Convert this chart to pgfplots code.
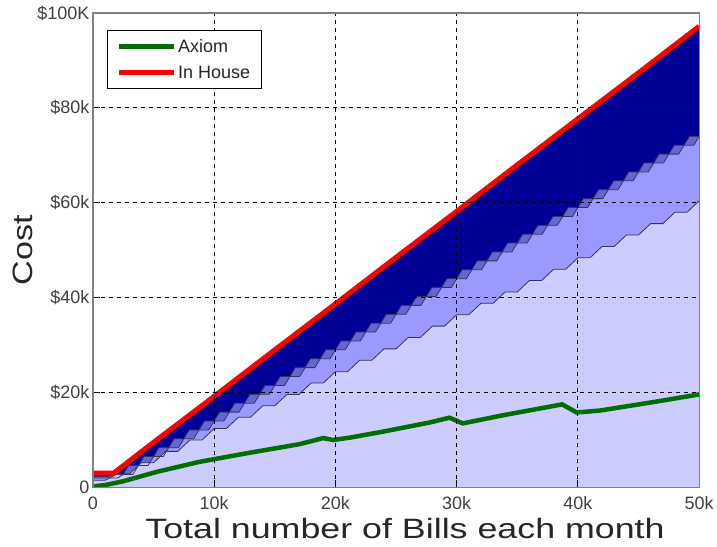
\documentclass[border=0pt]{standalone}
\usepackage{pgfplots}
\pgfplotsset{compat=1.18}
\usepackage{pgfplotstable}
\usepackage{graphicx}
\usepackage{fontspec}
\setmainfont{Liberation Sans}

\definecolor{lightL}{RGB}{204,204,255}
\definecolor{mediumL}{RGB}{153,153,255}
\definecolor{thinL}{RGB}{102,102,210}
\definecolor{navyL}{RGB}{0,0,150}
\definecolor{axiomG}{RGB}{0,110,0}
\definecolor{edgeC}{RGB}{50,50,90}
\definecolor{frameC}{RGB}{128,128,128}

% top of the lightest band
\pgfplotstableread{
x y
0 1.5
1 1.5
2 2.8
3 2.8
4 5.2
5 5.2
6 7.6
7 7.6
8 10.0
9 10.0
10 12.4
11 12.4
12 14.8
13 14.8
14 17.2
15 17.2
16 19.6
17 19.6
18 22.0
19 22.0
20 24.4
21 24.4
22 26.8
23 26.8
24 29.2
25 29.2
26 31.6
27 31.6
28 34.0
29 34.0
30 36.4
31 36.4
32 38.8
33 38.8
34 41.2
35 41.2
36 43.6
37 43.6
38 46.0
39 46.0
40 48.4
41 48.4
42 50.8
43 50.8
44 53.2
45 53.2
46 55.6
47 55.6
48 58.0
49 58.0
50 60.4
}\Lone

% top of the medium band
\pgfplotstableread{
x y
0 2.0
2.05 2.0
2.5 2.75
3.3 2.75
3.75 4.625
4.55 4.625
5 6.5
5.8 6.5
6.25 8.375
7.05 8.375
7.5 10.25
8.3 10.25
8.75 12.125
9.55 12.125
10 14
10.8 14
11.25 15.875
12.05 15.875
12.5 17.75
13.3 17.75
13.75 19.625
14.55 19.625
15 21.5
15.8 21.5
16.25 23.375
17.05 23.375
17.5 25.25
18.3 25.25
18.75 27.125
19.55 27.125
20 29
20.8 29
21.25 30.875
22.05 30.875
22.5 32.75
23.3 32.75
23.75 34.625
24.55 34.625
25 36.5
25.8 36.5
26.25 38.375
27.05 38.375
27.5 40.25
28.3 40.25
28.75 42.125
29.55 42.125
30 44
30.8 44
31.25 45.875
32.05 45.875
32.5 47.75
33.3 47.75
33.75 49.625
34.55 49.625
35 51.5
35.8 51.5
36.25 53.375
37.05 53.375
37.5 55.25
38.3 55.25
38.75 57.125
39.55 57.125
40 59
40.8 59
41.25 60.875
42.05 60.875
42.5 62.75
43.3 62.75
43.75 64.625
44.55 64.625
45 66.5
45.8 66.5
46.25 68.375
47.05 68.375
47.5 70.25
48.3 70.25
48.75 72.125
49.55 72.125
50 74.0
}\Ltwo

% top of the thin band
\pgfplotstableread{
x y
0 2.3
1.25 2.3
1.7 2.75
2.5 2.75
2.95 4.625
3.75 4.625
4.2 6.5
5 6.5
5.45 8.375
6.25 8.375
6.7 10.25
7.5 10.25
7.95 12.125
8.75 12.125
9.2 14
10 14
10.45 15.875
11.25 15.875
11.7 17.75
12.5 17.75
12.95 19.625
13.75 19.625
14.2 21.5
15 21.5
15.45 23.375
16.25 23.375
16.7 25.25
17.5 25.25
17.95 27.125
18.75 27.125
19.2 29
20 29
20.45 30.875
21.25 30.875
21.7 32.75
22.5 32.75
22.95 34.625
23.75 34.625
24.2 36.5
25 36.5
25.45 38.375
26.25 38.375
26.7 40.25
27.5 40.25
27.95 42.125
28.75 42.125
29.2 44
30 44
30.45 45.875
31.25 45.875
31.7 47.75
32.5 47.75
32.95 49.625
33.75 49.625
34.2 51.5
35 51.5
35.45 53.375
36.25 53.375
36.7 55.25
37.5 55.25
37.95 57.125
38.75 57.125
39.2 59
40 59
40.45 60.875
41.25 60.875
41.7 62.75
42.5 62.75
42.95 64.625
43.75 64.625
44.2 66.5
45 66.5
45.45 68.375
46.25 68.375
46.7 70.25
47.5 70.25
47.95 72.125
48.75 72.125
49.2 74
50 74
}\Lthree

% In House (top)
\pgfplotstableread{
x y
0 3.0
1.7 3.0
5 9.5
10 19.2
15 29.0
20 38.7
25 48.5
30 58.2
35 68.0
40 77.7
45 87.4
50 97.2
}\Inhouse

% Axiom
\pgfplotstableread{
x y
0 0.2
1 0.5
2.5 1.3
5.3 3.3
8.8 5.4
12.9 7.3
17 9.1
19 10.4
19.8 10.0
21.2 10.5
24 11.8
27.8 13.7
29.4 14.7
30.5 13.5
34 15.3
38.7 17.5
39.9 15.8
41.8 16.2
46 17.9
50 19.6
}\Axiom

\begin{document}
\begin{tikzpicture}
\begin{axis}[
  scale only axis, width=607pt, height=475pt,
  xmin=0, xmax=50, ymin=0, ymax=100,
  xtick={0,10,20,30,40,50}, xticklabels={0,10k,20k,30k,40k,50k},
  ytick={0,20,40,60,80,100}, yticklabels={0,\$20k,\$40k,\$60k,\$80k,\$100K},
  axis line style={frameC, line width=1.3pt},
  grid=major, grid style={black, line width=0.9pt, dash pattern=on 4pt off 4pt},
  axis on top,
  tick pos=left, tick align=inside,
  major tick length=7pt, tick style={black, line width=1pt},
  ticklabel style={font=\fontsize{18}{21}\selectfont, text=black!75},
  xticklabel style={yshift=-6pt},
  xlabel={\scalebox{1.28}[1]{\fontsize{28}{32}\selectfont Total number of Bills each month}},
  xlabel style={at={(axis description cs:0.5,-0.107)}, anchor=base, xshift=9pt, text=black!85},
  ylabel={\scalebox{1.22}[1]{\fontsize{28}{32}\selectfont Cost}},
  ylabel style={at={(axis description cs:-0.0988,0.5)}, anchor=base, text=black!85},
  legend style={at={(axis description cs:0.023,0.964)}, anchor=north west,
    draw=black, line width=0.8pt, fill=white,
    font=\fontsize{18}{21}\selectfont, text=black!85,
    inner xsep=9pt, inner ysep=7pt, row sep=8pt},
  legend cell align=left,
  legend image code/.code={\draw[#1] (0pt,0pt) -- (55pt,0pt);},
]
\addplot[fill=navyL, draw=none, forget plot] table {\Inhouse} \closedcycle;
\addplot[fill=thinL, draw=none, forget plot] table {\Lthree} \closedcycle;
\addplot[fill=mediumL, draw=none, forget plot] table {\Ltwo} \closedcycle;
\addplot[fill=lightL, draw=none, forget plot] table {\Lone} \closedcycle;
\addplot[edgeC, line width=0.8pt, forget plot] table {\Lthree};
\addplot[edgeC, line width=0.8pt, forget plot] table {\Ltwo};
\addplot[edgeC, line width=0.8pt, forget plot] table {\Lone};
\addplot[axiomG, line width=4.5pt] table {\Axiom};
\addlegendentry{Axiom}
\addplot[red, line width=5pt] table {\Inhouse};
\addlegendentry{In House}
\end{axis}
\path (current axis.south west) ++(-93pt,-59pt) rectangle ++(717pt,547pt);
\end{tikzpicture}
\end{document}
